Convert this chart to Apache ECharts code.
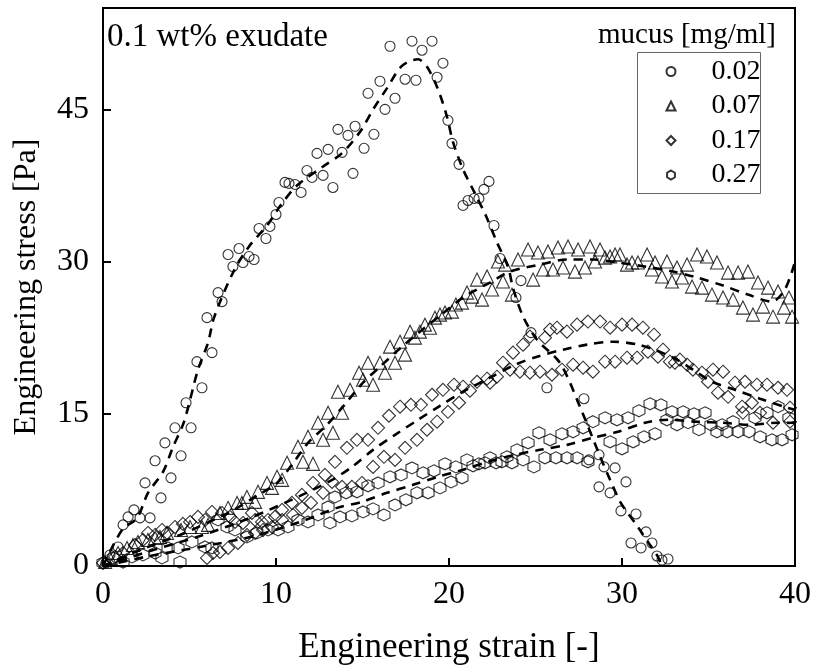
<!DOCTYPE html>
<html><head><meta charset="utf-8">
<script src="https://cdn.jsdelivr.net/npm/echarts@6/dist/echarts.min.js"></script>
<style>html,body{margin:0;padding:0;background:#fff}#c{width:813px;height:666px}</style>
</head><body><div id="c"></div>
<script>
const seriesNames = ['0.02', '0.07', '0.17', '0.27'];
const xTicks = [0, 10, 20, 30, 40];
const yTicks = [0, 15, 30, 45];

const pts002 = [[0.17,0.3],[0.4,1.09],[0.87,1.88],[1.16,4.05],[1.45,4.84],[1.79,5.53],[2.14,4.74],[2.43,8.19],[2.72,4.74],[3.01,10.37],[3.35,6.71],[3.58,12.14],[3.93,8.69],[4.16,13.62],[4.51,10.86],[4.8,16.09],[5.09,13.62],[5.43,20.14],[5.72,17.57],[6.01,24.48],[6.3,21.03],[6.65,26.95],[6.88,26.06],[7.23,30.7],[7.51,29.52],[7.86,31.29],[8.09,29.91],[8.44,30.5],[8.73,30.21],[9.02,33.27],[9.42,32.28],[9.65,33.47],[10.0,34.65],[10.17,35.83],[10.52,37.81],[10.75,37.71],[11.1,37.61],[11.45,36.82],[11.79,38.99],[12.08,38.3],[12.37,40.67],[12.72,38.5],[13.01,41.07],[13.29,37.31],[13.58,43.04],[13.82,40.77],[14.16,42.45],[14.45,38.7],[14.57,43.34],[15.09,41.17],[15.32,46.59],[15.66,42.55],[16.01,47.78],[16.3,45.01],[16.59,51.23],[16.88,46.1],[17.46,47.98],[17.86,51.73],[18.09,47.88],[18.44,50.84],[19.02,51.73],[19.31,48.17],[19.65,49.56],[19.94,43.93],[20.17,41.66],[20.58,39.59],[20.81,35.54],[21.1,36.03],[21.45,36.23],[21.73,36.23],[22.02,37.12],[22.31,37.91],[22.6,33.56],[22.95,30.31],[23.87,26.46],[24.16,28.13],[24.74,23.0],[25.66,17.57],[27.8,16.49],[28.09,10.46],[28.67,10.96],[28.67,7.8],[28.96,9.77],[29.31,7.21],[29.6,9.67],[29.94,5.43],[30.23,8.29],[30.52,2.27],[30.81,5.13],[31.1,1.78],[31.39,3.36],[31.73,2.27],[32.02,0.99],[32.31,0.59],[32.66,0.69]];

const pts007 = [[0.12,0.39],[0.4,0.79],[0.87,1.28],[1.39,1.78],[1.73,2.07],[2.02,2.37],[2.6,2.57],[3.01,2.76],[3.29,2.86],[3.7,3.26],[4.51,3.55],[5.03,3.85],[5.72,3.85],[6.07,4.05],[6.76,5.23],[7.23,5.73],[7.75,6.22],[8.03,6.22],[8.32,6.81],[8.79,6.32],[8.96,7.31],[9.48,8.19],[9.77,7.7],[10.06,8.79],[10.35,8.49],[10.64,10.17],[11.27,11.75],[11.56,10.27],[11.85,12.73],[12.14,10.07],[12.43,14.12],[12.72,12.44],[13.01,15.1],[13.29,13.13],[13.58,17.18],[13.82,15.1],[14.28,17.37],[14.8,19.05],[15.03,18.36],[15.32,20.04],[15.61,17.87],[16.01,20.04],[16.3,19.05],[16.59,21.62],[16.88,20.04],[17.17,22.11],[17.46,20.83],[17.75,23.1],[18.03,22.51],[18.32,23.1],[18.61,23.79],[18.9,23.49],[19.19,24.48],[19.48,24.78],[19.77,24.98],[20.17,25.07],[20.4,25.77],[20.75,25.96],[21.04,26.95],[21.33,26.55],[21.62,28.23],[21.91,26.26],[22.2,28.53],[22.49,27.25],[22.83,30.01],[23.12,28.04],[23.24,29.71],[23.64,26.75],[23.99,30.21],[24.57,31.19],[24.86,28.23],[25.14,30.9],[25.43,29.22],[25.72,31.0],[26.01,29.22],[26.3,31.39],[26.59,29.42],[26.88,31.49],[27.28,29.02],[27.46,31.19],[27.86,29.42],[28.15,31.49],[28.44,30.01],[28.73,31.19],[29.02,30.4],[29.31,30.5],[29.6,30.7],[29.88,30.7],[30.29,29.71],[30.58,29.91],[30.92,29.91],[31.45,30.7],[31.73,29.22],[31.91,29.91],[32.31,28.53],[32.6,30.01],[32.89,28.04],[33.18,29.42],[33.47,28.43],[33.76,29.71],[34.05,27.54],[34.34,30.7],[34.62,27.44],[34.91,30.5],[35.2,26.75],[35.49,29.91],[35.84,26.46],[36.13,28.92],[36.42,26.26],[36.71,28.92],[36.99,25.47],[37.28,29.02],[37.57,24.78],[37.86,27.94],[38.15,25.57],[38.44,27.44],[38.73,24.58],[39.02,27.05],[39.36,25.47],[39.65,26.46],[39.83,24.58]];

const pts017 = [[0,0.3],[0.69,0.89],[1.16,1.28],[1.85,2.07],[2.31,2.57],[2.6,3.26],[3.01,3.06],[3.41,3.55],[3.7,3.26],[4.16,3.85],[4.62,4.15],[5.03,4.34],[5.49,4.84],[5.9,4.54],[6.3,5.33],[6.88,5.23],[7.34,4.84],[7.63,4.34],[8.09,4.24],[8.61,5.23],[8.79,4.54],[9.19,4.34],[9.54,4.54],[9.94,4.84],[10.35,5.53],[10.92,6.22],[11.5,7.01],[12.14,8.19],[12.83,8.98],[13.41,10.27],[14.1,11.65],[14.68,12.44],[15.32,12.44],[15.9,13.62],[16.53,14.81],[17.17,15.7],[17.8,15.89],[18.38,15.89],[19.02,16.88],[19.65,17.37],[20.29,17.87],[20.81,17.67],[21.62,18.16],[22.2,18.46],[22.77,18.66],[23.12,20.04],[23.7,21.03],[24.28,21.82],[24.68,22.61],[25.55,22.51],[25.84,23.3],[26.24,23.49],[26.82,23.1],[27.4,23.79],[28.03,24.09],[28.73,24.09],[29.31,23.49],[30.0,23.79],[30.58,23.79],[31.21,23.49],[31.85,22.8],[32.37,21.32],[32.77,20.14],[33.35,20.34],[33.76,19.84],[34.1,19.35],[34.62,19.05],[35.26,19.35],[35.84,19.15],[36.53,18.07],[37.11,18.16],[37.8,17.87],[38.38,17.87],[39.02,17.57],[39.54,17.37],
[6.01,0.79],[6.36,1.28],[6.76,1.38],[7.23,1.78],[7.8,2.27],[8.32,3.06],[8.79,3.26],[9.25,3.55],[9.77,3.85],[10.35,4.54],[10.98,5.03],[11.5,5.73],[12.02,6.22],[12.72,7.21],[13.24,8.29],[13.82,7.8],[14.39,7.8],[14.97,8.19],[15.61,9.77],[16.24,10.76],[16.88,10.46],[17.46,11.65],[18.15,12.44],[18.73,13.43],[19.31,14.22],[19.94,15.2],[20.58,16.09],[21.21,17.28],[22.37,18.07],[23.53,19.35],[24.1,19.15],[24.68,19.05],[25.26,19.15],[25.95,18.85],[26.53,19.35],[27.17,19.84],[27.75,19.55],[28.32,19.15],[29.02,20.14],[29.6,20.14],[30.29,20.53],[30.87,20.53],[31.5,21.13],[32.08,20.63],[33.06,20.04],[34.97,18.16],[35.55,17.08],[36.13,16.68],[36.94,15.7],[37.51,16.09],[36.99,15.1],[37.98,15.1],[38.73,14.12],[39.71,15.6],[39.71,14.22]];

const pts027 = [[0,0.3],[0.58,0.79],[1.16,0.39],[1.68,0.89],[2.31,1.09],[3.01,1.28],[3.41,0.79],[3.76,1.78],[4.34,1.78],[4.45,0.39],[5.14,2.37],[5.9,1.88],[6.3,1.78],[6.65,4.54],[7.17,3.85],[7.63,3.55],[8.32,2.86],[8.9,3.26],[9.54,3.55],[10.12,3.55],[10.69,3.85],[11.27,4.54],[11.85,4.34],[12.43,5.03],[13.01,5.82],[13.12,4.24],[13.41,6.81],[13.7,4.84],[14.05,7.21],[14.39,4.94],[14.68,7.31],[15.03,5.33],[15.32,7.9],[15.61,5.63],[15.9,8.19],[16.24,5.03],[16.59,8.79],[16.88,6.02],[17.23,8.98],[17.51,6.52],[17.86,9.67],[18.15,7.21],[18.5,9.18],[18.79,7.21],[19.13,9.38],[19.48,7.7],[19.77,10.07],[20.12,8.29],[20.4,9.77],[20.75,8.69],[21.04,10.46],[21.39,9.87],[21.73,10.07],[22.08,10.17],[22.37,10.66],[22.72,10.17],[23.06,10.27],[23.35,10.76],[23.64,10.17],[23.93,11.45],[24.28,10.46],[24.57,12.14],[24.91,9.77],[25.2,13.13],[25.55,10.66],[25.84,12.44],[26.18,10.66],[26.53,13.03],[26.82,10.66],[27.17,13.23],[27.4,10.66],[27.75,13.62],[28.03,10.27],[28.32,14.22],[29.02,14.61],[29.31,12.24],[29.71,14.41],[30.0,11.55],[30.35,14.61],[30.64,12.24],[30.98,15.3],[31.27,12.73],[31.62,15.99],[31.91,13.03],[32.25,15.89],[32.6,14.41],[32.89,15.2],[33.18,13.92],[33.53,15.2],[33.82,14.12],[34.16,15.0],[34.45,13.43],[34.8,15.1],[35.14,13.92],[35.49,13.23],[35.78,13.92],[36.07,13.23],[36.42,14.22],[36.71,13.23],[37.34,13.23],[37.69,14.61],[37.98,12.73],[38.38,15.1],[38.67,12.44],[39.02,15.7],[39.25,12.44],[39.65,14.61],[39.83,12.93]];

const fit002 = [[0,0],[1.1,3.55],[1.97,4.74],[2.6,7.2],[3.47,9.28],[4.05,11.75],[4.68,14.2],[5.49,19.35],[6.07,22.0],[6.42,24.5],[7.51,28.9],[8.44,31.5],[9.54,33.7],[10.29,35.6],[11.21,37.5],[12.66,39.3],[13.82,40.7],[14.86,42.8],[15.61,45.0],[16.42,47.1],[17.28,49.3],[18.21,49.95],[18.73,49.2],[19.36,47.0],[19.88,44.3],[20.23,41.8],[20.81,39.1],[21.39,37.1],[22.14,34.5],[22.77,31.9],[23.41,29.5],[23.7,27.4],[24.28,24.6],[25.09,22.3],[26.42,20.0],[27.57,15.7],[28.73,10.8],[29.31,8.5],[29.94,6.2],[30.92,3.85],[31.62,2.07],[32.08,0.9],[32.3,0]];
const fit007 = [[0,0],[2.14,1.58],[4.45,3.06],[7.34,5.33],[8.96,7.0],[10.06,8.19],[10.92,9.97],[11.85,12.14],[12.95,13.92],[13.87,15.7],[15.03,18.07],[16.01,19.64],[17.28,21.62],[18.32,23.1],[19.48,24.68],[20.81,26.46],[22.37,27.94],[23.53,29.02],[25.26,29.71],[26.82,30.21],[28.32,30.21],[29.77,29.91],[31.33,29.52],[32.95,29.02],[34.34,28.43],[35.84,27.64],[37.28,26.75],[38.67,26.06],[39.31,26.95],[39.71,28.43],[40,30.0]];
const fit017 = [[0,0],[2.72,1.48],[5.61,2.96],[8.5,4.74],[11.39,6.91],[13.24,8.49],[14.39,9.77],[15.61,11.45],[16.88,12.93],[18.21,14.41],[19.48,15.79],[20.81,17.18],[22.37,18.56],[23.82,19.84],[25.09,20.63],[26.59,21.32],[27.98,21.82],[29.48,22.11],[30.92,21.82],[32.31,21.03],[33.18,20.34],[34.1,19.35],[35.2,18.16],[36.53,17.37],[37.98,16.49],[39.54,15.6],[40,15.4]];
const fit027 = [[0,0],[2.72,0.99],[5.61,1.88],[8.5,2.86],[11.39,4.34],[13.53,5.73],[14.97,6.32],[16.42,7.21],[17.92,8.0],[19.36,8.79],[20.81,9.48],[22.25,10.27],[23.82,10.96],[25.26,11.45],[26.82,11.94],[28.32,12.64],[29.77,13.23],[31.33,14.12],[32.66,14.41],[34.34,14.22],[35.84,14.12],[37.4,13.92],[39.02,14.12],[40,14.12]];

const FONT = '"Liberation Serif","Times New Roman",serif';
const hexPath = 'path://M0,-1L0.866,-0.5L0.866,0.5L0,1L-0.866,0.5L-0.866,-0.5Z';
const mk = (name, data, symbol, size) => ({
  name, type: 'scatter', data, symbol, symbolSize: size, z: 3,
  itemStyle: { color: 'rgba(255,255,255,0)', borderColor: '#000', borderWidth: 1.1 },
  emphasis: { disabled: true }
});
const fit = (data) => ({
  type: 'line', data, showSymbol: false, smooth: 0.3, z: 4, silent: true,
  lineStyle: { color: '#000', width: 2.6, type: [9, 7] }
});

const chart = echarts.init(document.getElementById('c'), null, { renderer: 'canvas' });
chart.setOption({
  animation: false,
  backgroundColor: '#fff',
  grid: { left: 103, right: 18, top: 8, bottom: 100, outerBoundsMode: 'none', containLabel: false, show: true, borderColor: '#000', borderWidth: 2, backgroundColor: 'transparent' },
  xAxis: {
    type: 'value', min: 0, max: 40, interval: 10,
    name: 'Engineering strain [-]', nameLocation: 'middle', nameGap: 64,
    nameTextStyle: { fontFamily: FONT, fontSize: 35, color: '#000' },
    axisLine: { lineStyle: { color: '#000', width: 2 } },
    axisTick: { inside: true, length: 8, lineStyle: { color: '#000', width: 2 }, customValues: xTicks },
    axisLabel: { fontFamily: FONT, fontSize: 32, color: '#000', margin: 13, customValues: xTicks },
    splitLine: { show: false }
  },
  yAxis: {
    type: 'value', min: 0, max: 55,
    name: 'Engineering stress [Pa]', nameLocation: 'middle', nameGap: 60, nameRotate: 90,
    nameTextStyle: { fontFamily: FONT, fontSize: 32, color: '#000' },
    axisLine: { lineStyle: { color: '#000', width: 2 } },
    axisTick: { inside: true, length: 8, lineStyle: { color: '#000', width: 2 }, customValues: yTicks },
    axisLabel: { fontFamily: FONT, fontSize: 32, color: '#000', margin: 14, customValues: yTicks },
    splitLine: { show: false }
  },
  legend: {
    data: seriesNames, orient: 'vertical', left: 665.5, top: 57.5,
    itemWidth: 9, itemHeight: 9, itemGap: 6.5, padding: 0,
    textStyle: { fontFamily: FONT, fontSize: 28, color: '#000', lineHeight: 28, padding: [0, 0, 0, 31] },
    selectedMode: false
  },
  graphic: [
    { type: 'rect', shape: { x: 637.5, y: 52.5, width: 123, height: 141 }, style: { fill: 'none', stroke: '#666', lineWidth: 1 }, z: 10 },
    { type: 'text', left: 598, top: 21, style: { text: 'mucus [mg/ml]', font: '29px ' + FONT, fill: '#000' }, z: 10 },
    { type: 'text', left: 107, top: 21, style: { text: '0.1 wt% exudate', font: '33px ' + FONT, fill: '#000' }, z: 10 }
  ],
  series: [
    mk('0.02', pts002, 'circle', 10),
    mk('0.07', pts007, 'triangle', 13),
    mk('0.17', pts017, 'diamond', 13),
    mk('0.27', pts027, hexPath, 12),
    fit(fit002), fit(fit007), fit(fit017), fit(fit027)
  ]
});
</script></body></html>
